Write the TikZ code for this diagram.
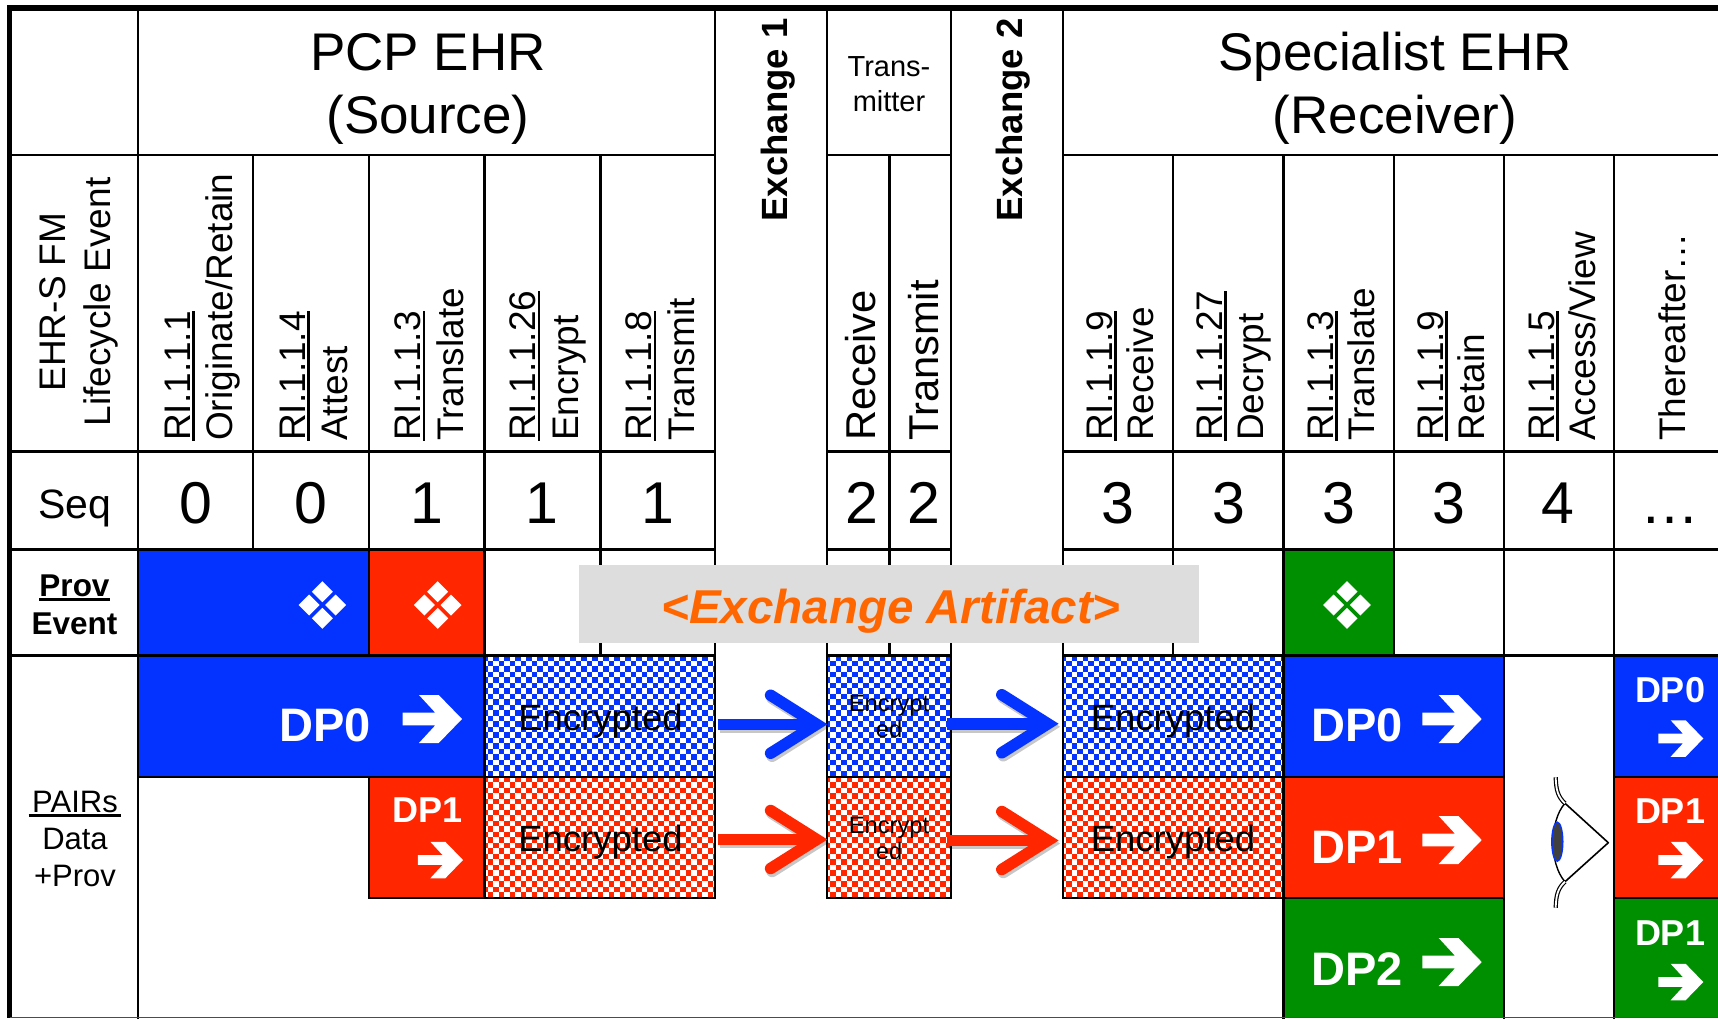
\documentclass[tikz,border=0pt]{standalone}
\usepackage{fontspec}
\setmainfont{Liberation Sans}
\usetikzlibrary{arrows.meta}
\definecolor{cblue}{RGB}{4,51,255}
\definecolor{cred}{RGB}{255,38,0}
\definecolor{cgreen}{RGB}{0,143,0}
\definecolor{corange}{RGB}{255,102,0}
\definecolor{cbox}{RGB}{221,221,221}
\newsavebox\ulbox
\newcommand\ulin[2][0pt]{\sbox\ulbox{#2}\leavevmode\hbox to \wd\ulbox{\hss\rule[-4.7pt]{\dimexpr\wd\ulbox+#1\relax}{2.6pt}\hss}\kern-\wd\ulbox\usebox\ulbox}
\newcommand\fsz[2]{\fontsize{#1}{#2}\selectfont}
\tikzset{
  grid/.style={line width=2.6pt,black,line cap=rect},
  txt/.style={inner sep=0pt,outer sep=0pt,anchor=base,align=center,black},
  head/.style={txt,font=\fsz{53}{63}},
  rotl/.style={inner sep=0pt,anchor=base west,rotate=90,align=left,font=\fsz{37}{42.5}},
  rotr/.style={inner sep=0pt,anchor=base west,rotate=90,align=left,font=\fsz{37}{41}},
  rots/.style={inner sep=0pt,anchor=base west,rotate=90,font=\fsz{41.7}{46}},
  seqd/.style={txt,font=\fsz{59}{60}},
  dplab/.style={inner sep=0pt,anchor=base west,white,font=\fsz{47}{50}\bfseries},
  dpsm/.style={inner sep=0pt,anchor=base,white,font=\fsz{36}{40}\bfseries},
  enc/.style={txt,font=\fsz{36.5}{40}},
  encs/.style={txt,font=\fsz{23.7}{25.5}},
  exch/.style={inner sep=0pt,anchor=base west,rotate=90,font=\fsz{36.5}{40}\bfseries},
  cellnode/.style={inner sep=0pt,outer sep=0pt,anchor=north west,rectangle},
  flow/.style={line width=11.5pt,-{Straight Barb[length=46pt,width=58pt,line width=11.5pt,line cap=round,line join=miter]}},
  flowshadow/.style={flow,black,opacity=.22},
}
% solid cell
\newcommand\solid[5]{\fill[#5] (#1,#2) rectangle (#3,#4);}
% checkered cell, a named node
\newcommand\checkcell[6]{%
  \begin{scope}
    \clip (#2,#3) rectangle (#4,#5);
    \foreach \k in {0,...,24}{
      \pgfmathsetmacro\rowy{#3+2.3+\k*5.5}
      \pgfmathsetmacro\ph{mod(\k,2)*5.5}
      \draw[#6,line width=5.5pt,dash pattern=on 5.5pt off 5.5pt,dash phase=\ph pt] (#2-2.3,\rowy) -- (#4+11,\rowy);
    }
  \end{scope}
  \node[cellnode,minimum width={(#4-#2)*1pt},minimum height={(#5-#3)*1pt}] (#1) at (#2,#3) {};
}
% white block arrow: tip x, centre y, scale
\newcommand\warrow[3]{%
  \fill[white,shift={(#1,#2)},scale=#3] (-59.3,-6.3) -- (-26.7,-6.3) -- (-43,-24) -- (-23.3,-24) -- (0,0) -- (-23.3,24) -- (-43,24) -- (-26.7,6.3) -- (-59.3,6.3) -- cycle;}
% four white diamonds
\newcommand\fourdia[2]{%
  \foreach \dx/\dy in {0/-13.3,0/13.3,-13.3/0,13.3/0}
    \fill[white,shift={(#1+\dx,#2+\dy)}] (-10.5,0) -- (0,-10.5) -- (10.5,0) -- (0,10.5) -- cycle;}
\newcommand\exarrow[3]{%
  \draw[flowshadow] ([shift={(1.5pt,-3pt)}]#2) -- ([shift={(1.5pt,-3pt)}]#3);
  \draw[flow,#1] (#2) -- (#3);}
\begin{document}
\begin{tikzpicture}[x=1pt,y=-1pt]
\useasboundingbox (0,0) rectangle (1718,1018);
\fill[white] (0,0) rectangle (1718,1018);
% solid cells
\solid{138}{549.5}{369}{655.5}{cblue}
\solid{369}{549.5}{484.5}{655.5}{cred}
\solid{1283.5}{549.5}{1394}{655.5}{cgreen}
\solid{138}{655.5}{484.5}{777}{cblue}
\solid{369}{777}{484.5}{898}{cred}
\solid{1283.5}{655.5}{1504}{777}{cblue}
\solid{1283.5}{777}{1504}{898}{cred}
\solid{1283.5}{898}{1504}{1018}{cgreen}
\solid{1614}{655.5}{1718}{777}{cblue}
\solid{1614}{777}{1718}{898}{cred}
\solid{1614}{898}{1718}{1018}{cgreen}
% checkered cells
\checkcell{encB1}{484.5}{655.5}{715}{777}{cblue}
\checkcell{encR1}{484.5}{777}{715}{898}{cred}
\checkcell{encB2}{827}{655.5}{951}{777}{cblue}
\checkcell{encR2}{827}{777}{951}{898}{cred}
\checkcell{encB3}{1063}{655.5}{1283.5}{777}{cblue}
\checkcell{encR3}{1063}{777}{1283.5}{898}{cred}
% grid
\draw[line width=6pt,black] (7,8) -- (1718,8);
\draw[line width=5pt,black] (9.7,5) -- (9.7,1018);
\foreach \y in {155,451.5,549.5,655.5}{
  \draw[grid] (9.7,\y) -- (715,\y);
  \draw[grid] (827,\y) -- (951,\y);
  \draw[grid] (1063,\y) -- (1718,\y);
}
\foreach \y in {777,898}{
  \draw[grid] (827,\y) -- (951,\y);
  \draw[grid] (1063,\y) -- (1504,\y);
  \draw[grid] (1614,\y) -- (1718,\y);
}
\draw[grid] (138,777) -- (715,777);
\draw[grid] (369,898) -- (715,898);
\draw[grid] (138,8) -- (138,1018);
\draw[grid] (253,155) -- (253,549.5);
\draw[grid] (369,155) -- (369,655.5);
\draw[grid] (369,777) -- (369,898);
\draw[grid] (484.5,155) -- (484.5,898);
\draw[grid] (600.5,155) -- (600.5,655.5);
\draw[grid] (715,8) -- (715,898);
\draw[grid] (827,8) -- (827,898);
\draw[grid] (889.5,155) -- (889.5,655.5);
\draw[grid] (951,8) -- (951,898);
\draw[grid] (1063,8) -- (1063,898);
\draw[grid] (1173,155) -- (1173,655.5);
\draw[grid] (1283.5,155) -- (1283.5,1018);
\draw[grid] (1394,155) -- (1394,655.5);
\draw[grid] (1504,155) -- (1504,1018);
\draw[grid] (1614,155) -- (1614,1018);
\draw[line width=1pt,black!70] (9.7,1017.5) -- (1718,1017.5);
% headers
\node[head] (pcp) at (428,133) {PCP EHR\\(Source)};
\node[head] (spec) at (1395,133) {Specialist EHR\\(Receiver)};
\node[txt,font=\fsz{29}{35}] (tm) at (889,111) {Trans-\\mitter};
\node[exch] (ex1) at (787,221.7) {Exchange 1};
\node[exch] (ex2) at (1022.7,221.7) {Exchange 2};
% row titles
\node[inner sep=0pt,anchor=base,rotate=90,align=center,font=\fsz{37}{45.5}] (life) at (110.5,302) {EHR-S FM\\Lifecycle Event};
\node[txt,font=\fsz{41}{45}] (seq) at (74.5,518) {Seq};
\node[txt,font=\fsz{31.5}{38}\bfseries] (prov) at (74.5,634) {\ulin{Prov}\\Event};
\node[txt,font=\fsz{31}{37}] (pairs) at (75,886) {\ulin[7pt]{PAIRs}\\Data\\+Prov};
% rotated event labels
\node[rotl] (e1) at (232.7,441) {\ulin{RI.1.1.1}\\Originate/Retain};
\node[rotl] (e2) at (347.5,441) {\ulin{RI.1.1.4}\\Attest};
\node[rotl] (e3) at (463,441) {\ulin{RI.1.1.3}\\Translate};
\node[rotl] (e4) at (578,441) {\ulin{RI.1.1.26}\\Encrypt};
\node[rotl] (e5) at (694,441) {\ulin{RI.1.1.8}\\Transmit};
\node[rots] (t1) at (875,441) {Receive};
\node[rots] (t2) at (938,441) {Transmit};
\node[rotr] (r1) at (1153,441) {\ulin{RI.1.1.9}\\Receive};
\node[rotr] (r2) at (1263,441) {\ulin{RI.1.1.27}\\Decrypt};
\node[rotr] (r3) at (1374,441) {\ulin{RI.1.1.3}\\Translate};
\node[rotr] (r4) at (1484,441) {\ulin{RI.1.1.9}\\Retain};
\node[rotr] (r5) at (1595,441) {\ulin{RI.1.1.5}\\Access/View};
\node[rotr] (r6) at (1685,441) {Thereafter…};
% sequence numbers
\node[seqd] (s1) at (196,523) {0};
\node[seqd] (s2) at (311,523) {0};
\node[seqd] (s3) at (427,523) {1};
\node[seqd] (s4) at (542,523) {1};
\node[seqd] (s5) at (658,523) {1};
\node[seqd] (s6) at (861.5,523) {2};
\node[seqd] (s7) at (924,523) {2};
\node[seqd] (s8) at (1118,523) {3};
\node[seqd] (s9) at (1229,523) {3};
\node[seqd] (s10) at (1339,523) {3};
\node[seqd] (s11) at (1449,523) {3};
\node[seqd] (s12) at (1558,523) {4};
\node[seqd] (s13) at (1670,523) {…};
% prov event marks
\fourdia{322.4}{605}
\fourdia{437.7}{605}
\fourdia{1347}{605}
% exchange artifact banner
\node[cellnode,fill=cbox,minimum width=619.6pt,minimum height=77.7pt] (artbox) at (579,565) {};
\node[inner sep=0pt,anchor=base,text=corange,font=\fsz{47.5}{50}\bfseries\itshape] (art) at (891,623) {<Exchange Artifact>};
% DP labels
\node[dplab] (dp0a) at (279,741.7) {DP0};
\warrow{462}{719}{1}
\node[dpsm] (dp1a) at (428,822.7) {DP1};
\warrow{463}{860}{.76}
\node[dplab] (dp0b) at (1311,741.7) {DP0};
\warrow{1481.7}{719}{1}
\node[dplab] (dp1b) at (1311,863.3) {DP1};
\warrow{1481.7}{840}{1}
\node[dplab] (dp2b) at (1311,985) {DP2};
\warrow{1481.7}{962}{1}
\node[dpsm] (dp0c) at (1670,702.7) {DP0};
\warrow{1703.3}{738.5}{.76}
\node[dpsm] (dp1c) at (1670,823.3) {DP1};
\warrow{1703.3}{860}{.76}
\node[dpsm] (dp1d) at (1670,945) {DP1};
\warrow{1703.3}{982}{.76}
% encrypted texts
\node[enc] (t3) at (600.5,730) {Encrypted};
\node[enc] (t4) at (600.5,851.7) {Encrypted};
\node[enc] (t5) at (1173,730) {Encrypted};
\node[enc] (t6) at (1173,851.7) {Encrypted};
\node[encs] (t7) at (889,737) {Encrypt\\ed};
\node[encs] (t8) at (889,859) {Encrypt\\ed};
% flow arrows
\coordinate (b1a) at ([xshift=3.4pt,yshift=-8pt]encB1.east);
\coordinate (b1b) at ([xshift=.4pt,yshift=-8pt]encB2.west);
\coordinate (b2a) at ([xshift=-4pt,yshift=-7.5pt]encB2.east);
\coordinate (b2b) at ([xshift=-4.4pt,yshift=-7.5pt]encB3.west);
\coordinate (r1a) at ([xshift=3.4pt,yshift=-2pt]encR1.east);
\coordinate (r1b) at ([xshift=.4pt,yshift=-2pt]encR2.west);
\coordinate (r2a) at ([xshift=-4pt,yshift=-3pt]encR2.east);
\coordinate (r2b) at ([xshift=-4.4pt,yshift=-3pt]encR3.west);
\exarrow{cblue}{b1a}{b1b}
\exarrow{cblue}{b2a}{b2b}
\exarrow{cred}{r1a}{r1b}
\exarrow{cred}{r2a}{r2b}
% eye
\draw[line width=1.6pt,line join=round] (1565,803.3) -- (1608.3,842.7) -- (1565,881.7);
\draw[line width=1.4pt] (1565,803.3) .. controls (1557,812) and (1553,828) .. (1553,842.5) .. controls (1553,857) and (1557,873) .. (1565,881.7);
\draw[line width=1.2pt,double=white,double distance=1.8pt] (1555.7,777.3) .. controls (1556,790) and (1558,797) .. (1565,803.3);
\draw[line width=1.2pt,double=white,double distance=1.8pt] (1555.7,907.7) .. controls (1556,895) and (1558,888) .. (1565,881.7);
\fill[black!75,draw=cblue,line width=1.4pt] (1557.3,841.7) ellipse (5.5 and 19.5);
\end{tikzpicture}
\end{document}
